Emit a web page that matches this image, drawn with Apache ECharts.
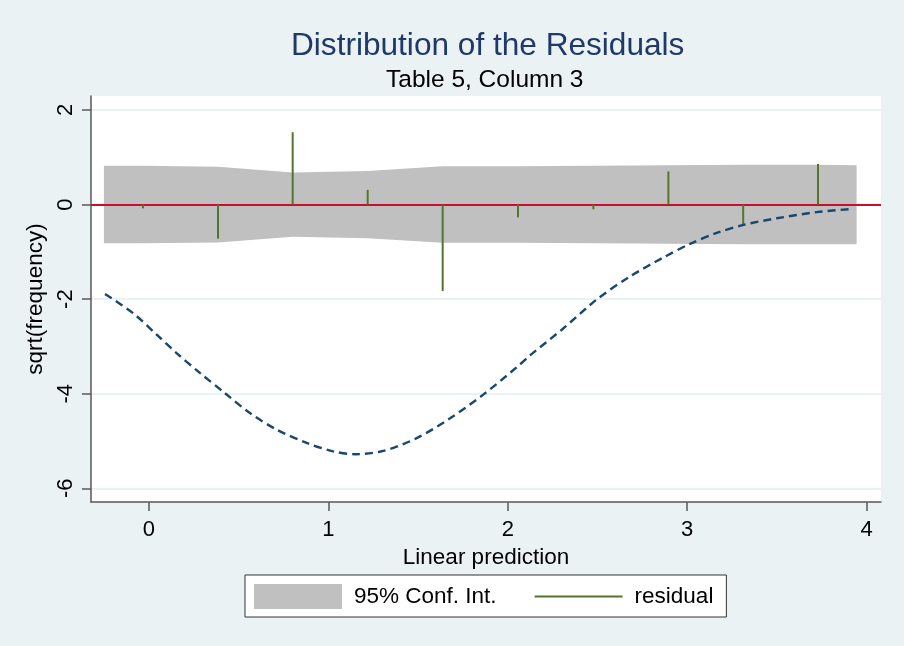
<!DOCTYPE html>
<html>
<head>
<meta charset="utf-8">
<script src="https://cdn.jsdelivr.net/npm/echarts@6/dist/echarts.min.js"></script>
<style>
html,body{margin:0;padding:0;background:#EAF2F3;}
#c{width:904px;height:646px;}
</style>
</head>
<body>
<div id="c"></div>
<script>
// Bin centres (linear prediction) and hanging-root residuals
const binCenters = [-0.033, 0.385, 0.801, 1.219, 1.637, 2.057, 2.477, 2.895, 3.312, 3.729];
const residuals  = [-0.08, -0.72, 1.53, 0.31, -1.83, -0.27, -0.10, 0.70, -0.43, 0.86];

// 95% confidence band
const ciX     = [-0.251, -0.033, 0.385, 0.801, 1.219, 1.637, 2.057, 2.477, 2.895, 3.312, 3.729, 3.944];
const ciUpper = [0.82, 0.82, 0.80, 0.68, 0.71, 0.81, 0.81, 0.82, 0.83, 0.84, 0.84, 0.83];
const ciLower = [-0.82, -0.82, -0.80, -0.68, -0.71, -0.81, -0.81, -0.82, -0.83, -0.84, -0.84, -0.84];

// Dashed reference curve
const curveX = [-0.245, -0.087, 0.043, 0.154, 0.284, 0.424, 0.563, 0.712, 0.879, 1.027, 1.150, 1.306, 1.492, 1.678, 1.863, 2.050, 2.124, 2.309, 2.495, 2.681, 2.867, 3.016, 3.164, 3.313, 3.499, 3.722, 3.926];
const curveY = [-1.89, -2.30, -2.75, -3.14, -3.56, -3.99, -4.41, -4.76, -5.04, -5.22, -5.28, -5.21, -4.94, -4.52, -4.02, -3.44, -3.19, -2.62, -2.01, -1.52, -1.12, -0.83, -0.60, -0.43, -0.29, -0.16, -0.09];

const xTicks = [0, 1, 2, 3, 4];
const yTicks = [-6, -4, -2, 0, 2];

const FONT = 'Liberation Sans, Arial, sans-serif';
const GREEN = '#55752F';
const NAVY = '#1A476F';
const BAND = '#C0C0C0';
const AXIS = '#595959';

const series = [];
series.push({
  type: 'line', name: '95% Conf. Int.', data: ciX.map((x, i) => [x, ciUpper[i]]),
  symbol: 'none', lineStyle: { width: 0 }, areaStyle: { color: BAND, opacity: 1, origin: 0 },
  itemStyle: { color: BAND }, z: 1, silent: true
});
series.push({
  type: 'line', name: '95% Conf. Int.', data: ciX.map((x, i) => [x, ciLower[i]]),
  symbol: 'none', lineStyle: { width: 0 }, areaStyle: { color: BAND, opacity: 1, origin: 0 },
  itemStyle: { color: BAND }, z: 1, silent: true
});
binCenters.forEach((x, i) => {
  const s = {
    type: 'line', name: 'residual', data: [[x, 0], [x, residuals[i]]],
    symbol: 'none', showSymbol: false, lineStyle: { color: GREEN, width: 2 }, itemStyle: { color: GREEN }, z: 3, silent: true
  };
  if (i === 0) {
    s.markLine = {
      silent: true, symbol: 'none', label: { show: false },
      lineStyle: { color: '#C8102E', width: 2, type: 'solid' },
      data: [{ yAxis: 0 }], z: 2
    };
  }
  series.push(s);
});
series.push({
  type: 'line', name: 'fit', data: curveX.map((x, i) => [x, curveY[i]]),
  symbol: 'none', smooth: 0.3,
  lineStyle: { color: NAVY, width: 2.4, type: [8, 5] }, z: 4, silent: true
});

const option = {
  backgroundColor: '#EAF2F3',
  animation: false,
  title: [
    { text: 'Distribution of the Residuals', left: 286, top: 25,
      textStyle: { color: '#1F3A68', fontFamily: FONT, fontSize: 31.6, fontWeight: 'normal' } },
    { text: 'Table 5, Column 3', left: 381, top: 63,
      textStyle: { color: '#000', fontFamily: FONT, fontSize: 24.5, fontWeight: 'normal' } }
  ],
  grid: { left: 91, right: 23, top: 96, bottom: 144, show: true, backgroundColor: '#fff', borderWidth: 0 },
  legend: {
    left: 245, top: 575,
    padding: [9, 13, 8, 9],
    itemWidth: 88, itemHeight: 25, itemGap: 38,
    backgroundColor: '#fff', borderColor: '#333', borderWidth: 1,
    textStyle: { fontFamily: FONT, fontSize: 22.5, color: '#000', padding: [0, 0, 0, 7] },
    data: [
      { name: '95% Conf. Int.', icon: 'rect', itemStyle: { color: BAND } },
      { name: 'residual', icon: 'path://M0,0L88,0L88,2L0,2Z', itemStyle: { color: GREEN } }
    ]
  },
  xAxis: {
    type: 'value', min: -0.323, max: 4.08,
    name: 'Linear prediction', nameLocation: 'middle', nameGap: 33,
    nameTextStyle: { fontFamily: FONT, fontSize: 22.5, color: '#000' },
    axisLine: { show: true, onZero: false, lineStyle: { color: AXIS, width: 1.5 } },
    axisTick: { show: true, length: 9, lineStyle: { color: AXIS, width: 1.5 },
      customValues: xTicks },
    axisLabel: { fontFamily: FONT, fontSize: 22, color: '#000', margin: 17, customValues: xTicks },
    splitLine: { show: false }
  },
  yAxis: {
    type: 'value', min: -6.29, max: 2.296,
    name: 'sqrt(frequency)', nameLocation: 'middle', nameGap: 34, nameRotate: 90,
    nameTextStyle: { fontFamily: FONT, fontSize: 22.5, color: '#000' },
    axisLine: { show: true, onZero: false, lineStyle: { color: AXIS, width: 1.5 } },
    axisTick: { show: true, length: 9, lineStyle: { color: AXIS, width: 1.5 }, customValues: yTicks },
    axisLabel: { fontFamily: FONT, fontSize: 22, color: '#000', margin: 14, rotate: 90, customValues: yTicks },
    splitLine: { show: true, lineStyle: { color: '#EAF2F3', width: 2 } }
  },
  series: series
};

const chart = echarts.init(document.getElementById('c'), null, { renderer: 'canvas' });
chart.setOption(option);
</script>
</body>
</html>
